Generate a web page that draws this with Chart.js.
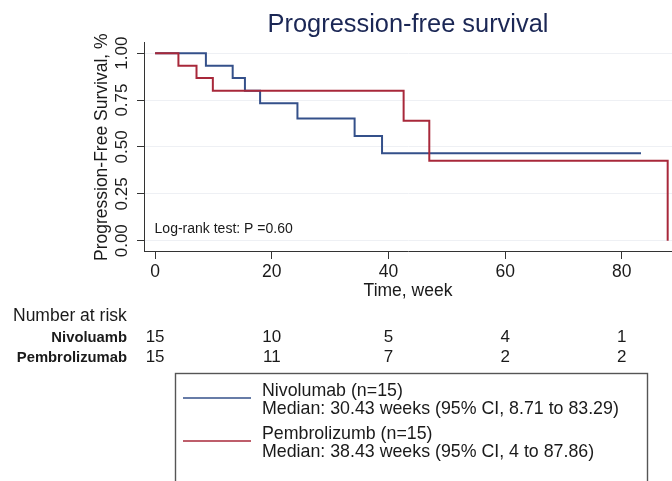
<!DOCTYPE html>
<html>
<head>
<meta charset="utf-8">
<script src="https://cdn.jsdelivr.net/npm/chart.js@4/dist/chart.umd.min.js"></script>
<style>
  html, body { margin: 0; padding: 0; background: #fff; }
  #wrap { width: 672px; height: 481px; }
</style>
</head>
<body>
<div id="wrap"><canvas id="km" width="672" height="481"></canvas></div>
<script>
// Kaplan-Meier steps (week, survival)
var nivoWeeks = [0, 8.71, 13.3, 15.4, 18.0, 24.4, 34.2, 38.9, 83.29];
var nivoSurv = [1, 0.933, 0.867, 0.800, 0.733, 0.652, 0.559, 0.466, 0.466];
var pembroWeeks = [0, 4.0, 7.1, 9.9, 42.6, 47.0, 87.86];
var pembroSurv = [1, 0.933, 0.867, 0.800, 0.640, 0.427, 0];

// number at risk table
var riskWeeks = [0, 20, 40, 60, 80];
var nivoAtRisk = [15, 10, 5, 4, 1];
var pembroAtRisk = [15, 11, 7, 2, 2];

var xTicks = [0, 20, 40, 60, 80];
var yTicks = [0, 0.25, 0.5, 0.75, 1];

var legendText = [
  ["Nivolumab (n=15)", "Median: 30.43 weeks (95% CI, 8.71 to 83.29)"],
  ["Pembrolizumb (n=15)", "Median: 38.43 weeks (95% CI, 4 to 87.86)"]
];

var FONT = '"Liberation Sans", Arial, sans-serif';
var BLUE = '#34508a';
var RED = '#a8283a';
var INK = '#1a1a1a';

function toPoints(xs, ys) {
  var pts = [];
  for (var i = 0; i < xs.length; i++) pts.push({x: xs[i], y: ys[i]});
  return pts;
}

var extras = {
  id: 'extras',
  afterDraw: function (chart) {
    var ctx = chart.ctx;
    var xs = chart.scales.x, ys = chart.scales.y;
    ctx.save();
    ctx.fillStyle = INK;

    // rotated y tick labels
    ctx.font = '17px ' + FONT;
    ctx.textAlign = 'center';
    ctx.textBaseline = 'middle';
    for (var i = 0; i < yTicks.length; i++) {
      ctx.save();
      ctx.translate(122, ys.getPixelForValue(yTicks[i]));
      ctx.rotate(-Math.PI / 2);
      ctx.fillText(yTicks[i].toFixed(2), 0, 0);
      ctx.restore();
    }

    // log-rank note
    ctx.font = '14px ' + FONT;
    ctx.textAlign = 'left';
    ctx.fillText('Log-rank test: P =0.60', xs.getPixelForValue(0) - 0.5, ys.getPixelForValue(0.06));

    // number at risk
    ctx.font = '17.5px ' + FONT;
    ctx.fillText('Number at risk', 13, 316);
    ctx.font = 'bold 14.8px ' + FONT;
    ctx.textAlign = 'right';
    ctx.fillText('Nivoluamb', 127, 337.5);
    ctx.fillText('Pembrolizumab', 127, 357.5);
    ctx.font = '17px ' + FONT;
    ctx.textAlign = 'center';
    for (var j = 0; j < riskWeeks.length; j++) {
      var px = xs.getPixelForValue(riskWeeks[j]);
      ctx.fillText(String(nivoAtRisk[j]), px, 337.5);
      ctx.fillText(String(pembroAtRisk[j]), px, 357.5);
    }

    // legend box
    ctx.strokeStyle = '#555';
    ctx.lineWidth = 1.4;
    ctx.strokeRect(175.5, 373.5, 472, 130);
    var cols = [BLUE, RED];
    var lineY = [398, 441];
    var textY = [[391.5, 409.5], [434.5, 452]];
    ctx.textAlign = 'left';
    ctx.font = '17.8px ' + FONT;
    for (var k = 0; k < 2; k++) {
      ctx.strokeStyle = cols[k];
      ctx.lineWidth = 1.7;
      ctx.beginPath();
      ctx.moveTo(183, lineY[k]);
      ctx.lineTo(251, lineY[k]);
      ctx.stroke();
      ctx.fillStyle = INK;
      ctx.fillText(legendText[k][0], 262, textY[k][0]);
      ctx.fillText(legendText[k][1], 262, textY[k][1]);
    }
    ctx.restore();
  }
};

new Chart(document.getElementById('km'), {
  type: 'line',
  data: {
    datasets: [
      {
        label: 'Pembrolizumab',
        data: toPoints(pembroWeeks, pembroSurv),
        borderColor: RED,
        borderWidth: 2,
        stepped: true,
        pointRadius: 0,
        fill: false
      },
      {
        label: 'Nivolumab',
        data: toPoints(nivoWeeks, nivoSurv),
        borderColor: BLUE,
        borderWidth: 2,
        stepped: true,
        pointRadius: 0,
        fill: false
      }
    ]
  },
  options: {
    responsive: false,
    animation: false,
    devicePixelRatio: 1,
    layout: { padding: { left: 0, right: 0, top: 0, bottom: 179 } },
    plugins: {
      legend: { display: false },
      tooltip: { enabled: false },
      title: {
        display: true,
        fullSize: false,
        text: 'Progression-free survival',
        color: '#1b2755',
        font: { family: FONT, size: 25.4, weight: 'normal' },
        padding: { top: 10, bottom: 2 }
      }
    },
    scales: {
      x: {
        type: 'linear',
        min: -1.9,
        max: 88.6,
        afterBuildTicks: function (s) { s.ticks = xTicks.map(function (v) { return {value: v}; }); },
        afterFit: function (s) { s.height = 50; },
        ticks: { color: INK, font: { family: FONT, size: 17.5 }, padding: 3, maxRotation: 0 },
        grid: { drawOnChartArea: false, tickLength: 7, tickColor: '#333' },
        border: { color: '#333', width: 1 },
        title: {
          display: true,
          text: 'Time, week',
          color: INK,
          font: { family: FONT, size: 17.5 },
          padding: { top: 0, bottom: 0 }
        }
      },
      y: {
        type: 'linear',
        min: -0.06,
        max: 1.057,
        afterBuildTicks: function (s) { s.ticks = yTicks.map(function (v) { return {value: v}; }); },
        afterFit: function (s) { s.width = 144; },
        ticks: { display: false },
        grid: { color: '#eef0f4', tickLength: 7, tickColor: '#333' },
        border: { color: '#333', width: 1 },
        title: {
          display: true,
          text: 'Progression-Free Survival, %',
          color: INK,
          font: { family: FONT, size: 17.5 },
          padding: { top: 92, bottom: 0 }
        }
      }
    }
  },
  plugins: [extras]
});
</script>
</body>
</html>
